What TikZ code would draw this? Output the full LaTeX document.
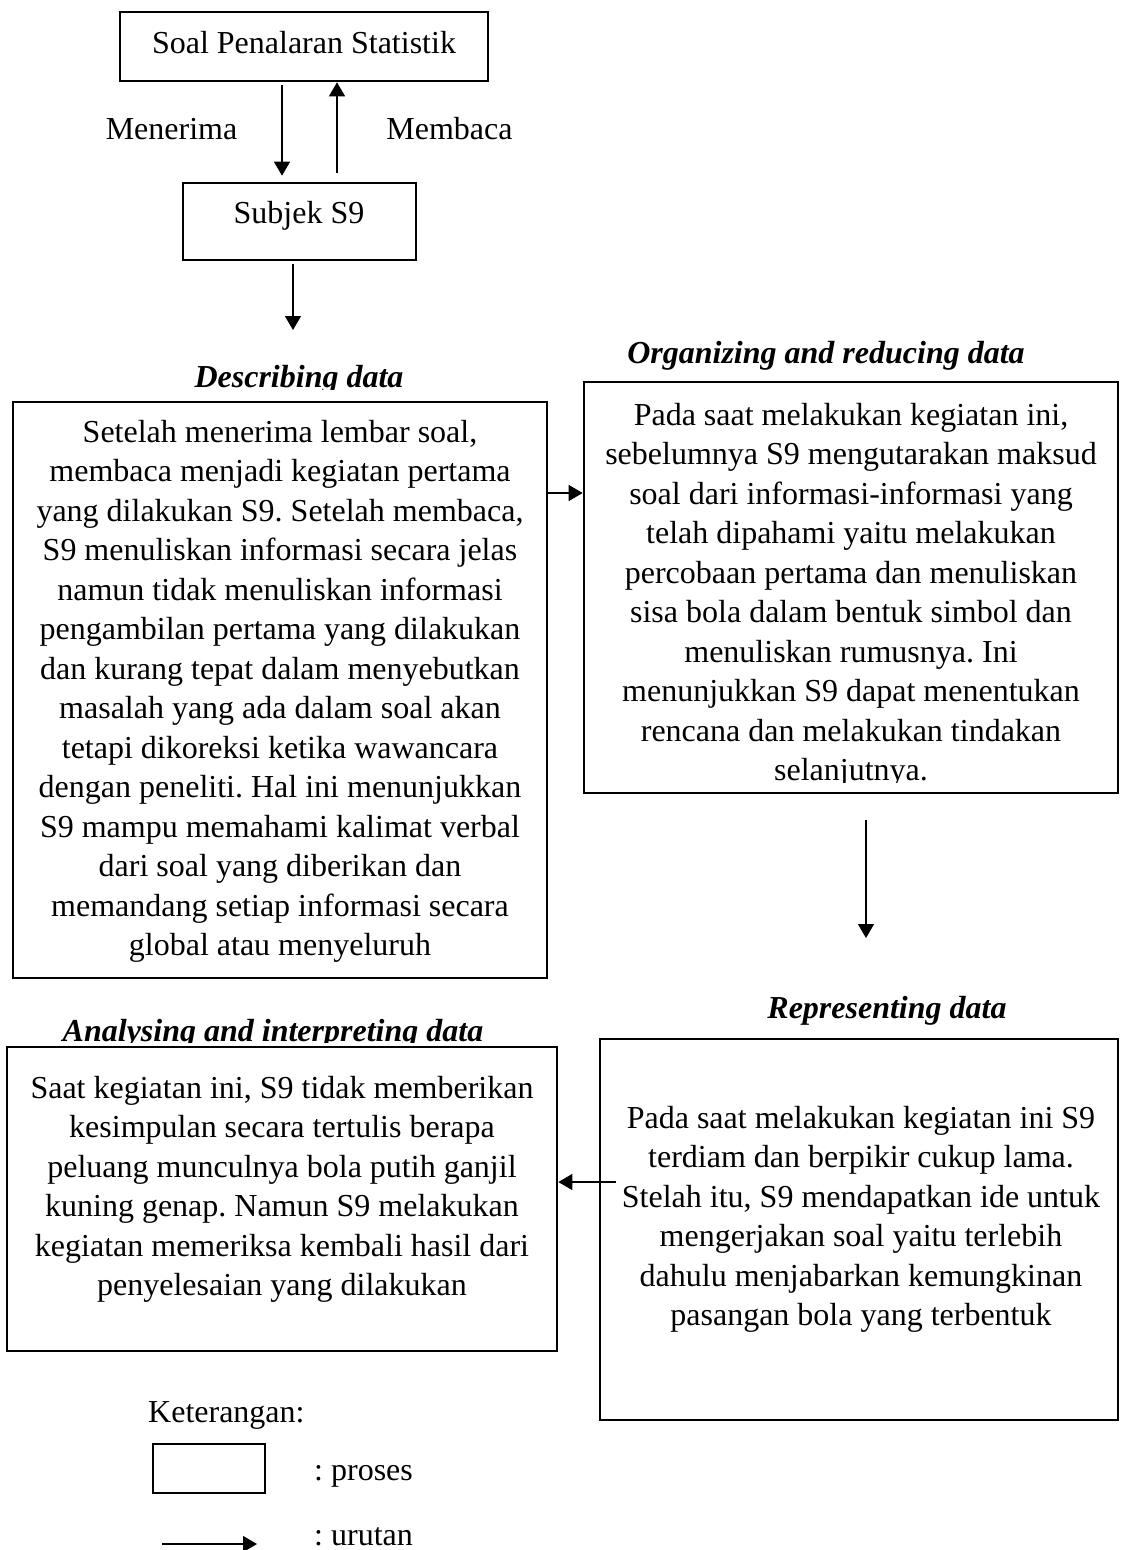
\documentclass[tikz,border=0pt]{standalone}
\usepackage{fontspec}
\setmainfont{Liberation Serif}
\usetikzlibrary{arrows.meta,calc}
\frenchspacing
\begin{document}
\begin{tikzpicture}[x=1pt,y=-1pt,
  box/.style={draw=black, line width=2.7pt, inner sep=0pt},
  arr/.style={draw=black, line width=1.3pt, -{Triangle[width=16pt,length=14pt]}},
  body/.style={font=\fontsize{32}{39.5}\selectfont, align=center, inner sep=0pt, anchor=north},
  lbl/.style={font=\fontsize{32}{39.5}\selectfont, inner sep=0pt, anchor=base},
  ttl/.style={font=\fontsize{32}{39.5}\selectfont\bfseries\itshape, inner sep=0pt, anchor=base}]

% page
\fill[white] (0,0) rectangle (1120,1550);
\useasboundingbox (0,0) rectangle (1120,1550);

% boxes
\node[box, minimum width=368pt, minimum height=69pt] (soal) at (304,46.5) {};
\node[box, minimum width=233pt, minimum height=77pt] (subj) at (299.5,221.5) {};
\node[box, minimum width=534pt, minimum height=576pt] (desc) at (280,690) {};
\node[box, minimum width=534pt, minimum height=411pt] (org) at (851,587.5) {};
\node[box, minimum width=518pt, minimum height=381pt] (repr) at (859,1229.5) {};
\node[box, minimum width=550pt, minimum height=304pt] (ana) at (282,1199) {};
\node[box, minimum width=112pt, minimum height=49pt] (legbox) at (209,1468.5) {};

% texts of the top boxes and the two labels
\node[lbl] (soaltxt) at (304,53) {Soal Penalaran Statistik};
\node[lbl] (subjtxt) at (299,223) {Subjek S9};
\node[lbl] (menerima) at (171.5,139) {Menerima};
\node[lbl] (membaca) at (449.5,139) {Membaca};

% stage titles
\begin{scope}
  \clip (0,300) rectangle (560,389);
  \node[ttl] (desctitle) at (299,387) {Describing data};
\end{scope}
\node[ttl] (orgtitle) at (826,363) {Organizing and reducing data};
\node[ttl] (reprtitle) at (887,1018) {Representing data};
\begin{scope}
  \clip (0,990) rectangle (590,1042.5);
  \node[ttl] (anatitle) at (273,1041) {Analysing and interpreting data};
\end{scope}

% stage descriptions
\node[body] (desctxt) at (280,420) {Setelah menerima lembar soal,\\
membaca menjadi kegiatan pertama\\
yang dilakukan S9. Setelah membaca,\\
S9 menuliskan informasi secara jelas\\
namun tidak menuliskan informasi\\
pengambilan pertama yang dilakukan\\
dan kurang tepat dalam menyebutkan\\
masalah yang ada dalam soal akan\\
tetapi dikoreksi ketika wawancara\\
dengan peneliti. Hal ini menunjukkan\\
S9 mampu memahami kalimat verbal\\
dari soal yang diberikan dan\\
memandang setiap informasi secara\\
global atau menyeluruh};

\begin{scope}
  \clip (584,382) rectangle (1118,782.5);
  \node[body] (orgtxt) at (851,403) {Pada saat melakukan kegiatan ini,\\
sebelumnya S9 mengutarakan maksud\\
soal dari informasi-informasi yang\\
telah dipahami yaitu melakukan\\
percobaan pertama dan menuliskan\\
sisa bola dalam bentuk simbol dan\\
menuliskan rumusnya. Ini\\
menunjukkan S9 dapat menentukan\\
rencana dan melakukan tindakan\\
selanjutnya.};
\end{scope}

\node[body] (reprtxt) at (861,1106) {Pada saat melakukan kegiatan ini S9\\
terdiam dan berpikir cukup lama.\\
Stelah itu, S9 mendapatkan ide untuk\\
mengerjakan soal yaitu terlebih\\
dahulu menjabarkan kemungkinan\\
pasangan bola yang terbentuk};

\node[body] (anatxt) at (282,1076) {Saat kegiatan ini, S9 tidak memberikan\\
kesimpulan secara tertulis berapa\\
peluang munculnya bola putih ganjil\\
kuning genap. Namun S9 melakukan\\
kegiatan memeriksa kembali hasil dari\\
penyelesaian yang dilakukan};

% connectors
\draw[arr] ($(soal.south)+(-22,3)$) -- ($(subj.north)+(-17.5,-6)$);
\draw[arr] ($(subj.north)+(37.5,-9)$) -- ($(soal.south)+(33,0)$);
\coordinate (descin) at (293,330);
\draw[arr] ($(subj.south)+(-6.5,3)$) -- (descin);
\draw[arr] ($(desc.east)+(0,-197)$) -- ($(org.west)+(0,-94.5)$);
\coordinate (reprin) at (866,938);
\draw[arr] ($(org.south)+(15,26)$) -- (reprin);
\draw[arr] ($(repr.west)+(17,-47.5)$) -- ($(ana.east)+(0,-17)$);

% legend
\node[lbl, anchor=base west] (ket) at (148,1422) {Keterangan:};
\node[lbl, anchor=base west] (legproses) at (314,1480) {: proses};
\node[lbl, anchor=base west] (legurutan) at (314,1545) {: urutan};
\coordinate (legA) at (162,1544);
\coordinate (legB) at (257,1544);
\draw[arr] (legA) -- (legB);

\end{tikzpicture}
\end{document}
